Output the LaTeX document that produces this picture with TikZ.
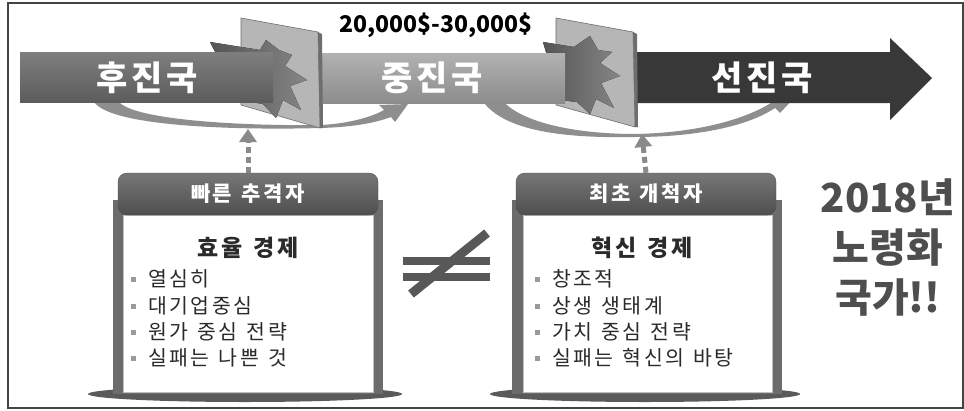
\documentclass[tikz,border=0pt]{standalone}
\usepackage{fontspec}
\setmainfont{Noto Sans CJK KR}[LetterSpace=12,WordSpace=1.3]
\newfontfamily\numfont{Noto Sans CJK KR}
\usetikzlibrary{arrows.meta}

\definecolor{latebar}{HTML}{5C5C5C}
\definecolor{latetop}{HTML}{7E7E7E}
\definecolor{midtop}{HTML}{B2B2B2}
\definecolor{midbot}{HTML}{8C8C8C}
\definecolor{leadbar}{HTML}{383838}
\definecolor{arcgray}{HTML}{8E8E8E}
\definecolor{glassgray}{HTML}{B6B6B6}
\definecolor{glassedge}{HTML}{6E6E6E}
\definecolor{burstdark}{HTML}{555555}
\definecolor{burstlight}{HTML}{858585}
\definecolor{dotgray}{HTML}{8A8A8A}
\definecolor{hdtop}{HTML}{777777}
\definecolor{hdbot}{HTML}{4E4E4E}
\definecolor{postgray}{HTML}{6C6C6C}
\definecolor{basegray}{HTML}{5A5A5A}
\definecolor{itemgray}{HTML}{2A2A2A}
\definecolor{bulletgray}{HTML}{9A9A9A}
\definecolor{neqgray}{HTML}{585858}
\definecolor{agegray}{HTML}{4E4E4E}
\definecolor{framegray}{HTML}{444444}

\newcommand{\blt}{{\color{bulletgray}\rule[5pt]{5pt}{5pt}}\hspace{12pt}}

\begin{document}
\begin{tikzpicture}[x=1pt,y=-1pt,
  bartext/.style={text=white,font=\fontsize{34}{40}\selectfont\bfseries,inner sep=0pt},
  header/.style={rounded corners=9pt,minimum width=260pt,minimum height=42pt,
    top color=hdtop,bottom color=hdbot,draw=hdbot,text=white,
    font=\fontsize{21}{24}\selectfont\bfseries},
  title/.style={font=\fontsize{23}{26}\selectfont\bfseries,text=itemgray,inner sep=0pt},
  item/.style={anchor=west,font=\fontsize{20.5}{24}\selectfont,text=itemgray,inner sep=0pt},
  dotarrow/.style={draw=dotgray,line width=5pt,dash pattern=on 6pt off 4pt,
    -{Triangle[width=17pt,length=13pt]}},
  glass/.style={fill=glassgray,draw=glassedge,line width=0.6pt},
  burst/.style={left color=burstdark,right color=burstlight},
  neq/.style={draw=neqgray,line width=8pt},
]
  % fundo e moldura
  \useasboundingbox (0,0) rectangle (964,410);
  \fill[white] (0,0) rectangle (964,410);
  \draw[framegray,line width=1.2pt] (8,3) rectangle (963,408);

  % arcos
  \fill[arcgray] (95,103) .. controls (115,128) and (250,130) .. (320,128)
    .. controls (360,127) and (380,121) .. (391,117) -- (395,122) -- (408,104)
    -- (379,105) -- (384,110) .. controls (370,118) and (345,124) .. (320,125)
    .. controls (250,126) and (140,121) .. (120,103) -- cycle;
  \fill[arcgray] (482,100) .. controls (505,135) and (580,138) .. (635,137)
    .. controls (700,137) and (750,125) .. (775,108) -- (780,113) -- (796,96)
    -- (767,98) -- (771,103) .. controls (740,122) and (690,133) .. (635,134)
    .. controls (580,134) and (522,124) .. (502,100) -- cycle;

  % barras
  \fill[top color=midtop,bottom color=midbot] (315,53) rectangle (565,103);
  \fill[leadbar] (635,52) -- (890,52) -- (890,38) -- (932,78) -- (890,120)
    -- (890,103) -- (635,103) -- cycle;

  % vidros
  \filldraw[glass] (241,18) -- (318,32) -- (320,128) -- (241,105) -- cycle;
  \fill[glassedge] (318,32) -- (322,34) -- (323,128) -- (320,128) -- cycle;
  \fill[burst] (210,42) -- (260,50) -- (266,40) -- (279,50) -- (292,55)
    -- (285,66) -- (307,80) -- (290,86) -- (301,110) -- (283,100) -- (276,118)
    -- (263,104) -- (240,100) -- cycle;
  \filldraw[glass] (556,18) -- (633,32) -- (635,127) -- (556,105) -- cycle;
  \fill[glassedge] (633,32) -- (637,34) -- (638,127) -- (635,127) -- cycle;
  \fill[burst] (543,42) -- (574,47) -- (590,36) -- (598,50) -- (612,52)
    -- (600,63) -- (620,76) -- (601,83) -- (614,108) -- (596,99) -- (590,114)
    -- (577,102) -- (560,100) -- cycle;

  % barra do meio (frente) e barra da esquerda
  \fill[top color=midtop,bottom color=midbot] (545,53) rectangle (565,103);
  \fill[top color=latetop,bottom color=latebar] (20,52) rectangle (273,102);

  \node[bartext] (late) at (147,78) {후진국};
  \node[bartext] (middle) at (432,78) {중진국};
  \node[bartext] (lead) at (762,78) {선진국};
  \node[font=\numfont\fontsize{23}{26}\selectfont\bfseries,inner sep=0pt]
    (income) at (436,25) {20,000\$-30,000\$};

  % quadros
  \fill[basegray] (245,394) ellipse [x radius=157pt,y radius=8pt];
  \fill[postgray] (113,200) rectangle (383,394);
  \filldraw[fill=white,draw=black!25] (123,215) rectangle (373,392);
  \fill[basegray] (645,394) ellipse [x radius=155pt,y radius=8pt];
  \fill[postgray] (512,200) rectangle (782,394);
  \filldraw[fill=white,draw=black!25] (523,215) rectangle (772,392);

  \node[header] (fast) at (248,194) {빠른 추격자};
  \node[header] (first) at (646,194) {최초 개척자};

  % setas pontilhadas
  \coordinate (up1) at (248,129);
  \coordinate (up2) at (642,134);
  \draw[dotarrow] (fast.north) -- (up1);
  \draw[dotarrow] (first.north) -- (up2);

  % textos dos quadros
  \node[title] (effi) at (248,248) {효율 경제};
  \node[item] (e1) at (131,279) {\blt 열심히};
  \node[item] (e2) at (131,306) {\blt 대기업중심};
  \node[item] (e3) at (131,332) {\blt 원가 중심 전략};
  \node[item] (e4) at (131,358) {\blt 실패는 나쁜 것};

  \node[title] (inno) at (642,248) {혁신 경제};
  \node[item] (i1) at (535,279) {\blt 창조적};
  \node[item] (i2) at (535,306) {\blt 상생 생태계};
  \node[item] (i3) at (535,332) {\blt 가치 중심 전략};
  \node[item] (i4) at (535,358) {\blt 실패는 혁신의 바탕};

  % diferente
  \draw[neq] (403,261) -- (490,261);
  \draw[neq] (403,277) -- (490,277);
  \draw[neq,line width=9pt] (411,294) -- (487,233);

  % texto da direita
  \node[text=agegray,align=center,inner sep=0pt,
    font=\numfont\fontsize{40}{50}\selectfont\bfseries] (aging) at (888,248)
    {2018년\\노령화\\국가!!};
\end{tikzpicture}
\end{document}
